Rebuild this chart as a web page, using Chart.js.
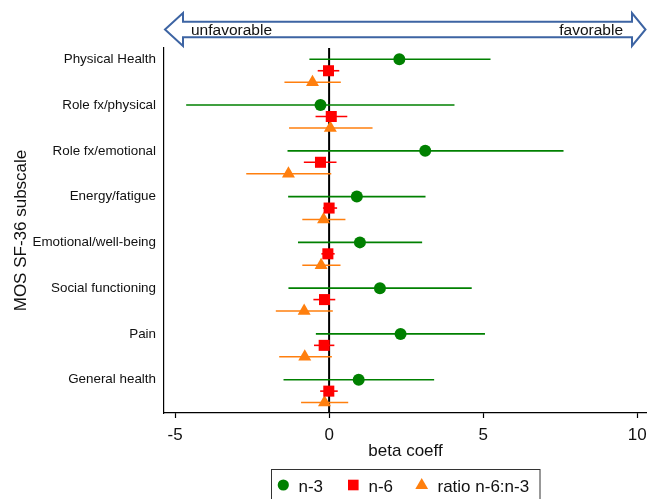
<!DOCTYPE html>
<html><head><meta charset="utf-8">
<script src="https://cdn.jsdelivr.net/npm/chart.js@4/dist/chart.umd.min.js"></script>
<style>html,body{margin:0;padding:0;background:#fff}#wrap{width:647px;height:499px;position:relative}</style>
</head><body><div id="wrap"><canvas id="c"></canvas></div>
<script>
const categories = ['Physical Health','Role fx/physical','Role fx/emotional','Energy/fatigue','Emotional/well-being','Social functioning','Pain','General health'];
const n3Beta  = [2.28, -0.28, 3.12, 0.90, 1.00, 1.65, 2.32, 0.96];
const n3Lo    = [-0.64, -4.64, -1.35, -1.33, -1.01, -1.32, -0.43, -1.48];
const n3Hi    = [5.24, 4.07, 7.61, 3.13, 3.02, 4.63, 5.06, 3.41];
const n6Beta  = [-0.02, 0.07, -0.28, 0.00, -0.04, -0.15, -0.16, -0.01];
const n6Lo    = [-0.37, -0.44, -0.82, -0.20, -0.25, -0.51, -0.49, -0.29];
const n6Hi    = [0.33, 0.59, 0.24, 0.26, 0.18, 0.20, 0.17, 0.28];
const ratioBeta = [-0.54, 0.04, -1.32, -0.18, -0.26, -0.81, -0.79, -0.15];
const ratioLo   = [-1.45, -1.30, -2.69, -0.87, -0.87, -1.73, -1.62, -0.91];
const ratioHi   = [0.38, 1.41, 0.07, 0.53, 0.37, 0.12, 0.09, 0.62];
const xTicks = [-5, 0, 5, 10];
const seriesNames = ['n-3', 'n-6', 'ratio n-6:n-3'];
const arrowLabels = ['unfavorable', 'favorable'];
const xTitle = 'beta coeff';
const yTitle = 'MOS SF-36 subscale';

const FONT = "'Liberation Sans', Arial, sans-serif";
const GREEN = '#008000', RED = '#ff0000', ORANGE = '#ff7f0e';

function mk(beta, lo, hi, off) {
  return categories.map((c, i) => ({x: beta[i], y: i + off, lo: lo[i], hi: hi[i]}));
}

const errorBars = {
  id: 'errorBars',
  beforeDatasetsDraw(chart) {
    const {ctx, scales: {x, y}, chartArea} = chart;
    ctx.save();
    ctx.strokeStyle = '#000'; ctx.lineWidth = 2;
    ctx.beginPath();
    const x0 = x.getPixelForValue(0);
    ctx.moveTo(x0, chartArea.top); ctx.lineTo(x0, chartArea.bottom); ctx.stroke();
    chart.data.datasets.forEach(ds => {
      ctx.strokeStyle = ds.borderColor; ctx.lineWidth = 1.6;
      ds.data.forEach(p => {
        const py = y.getPixelForValue(p.y);
        ctx.beginPath();
        ctx.moveTo(x.getPixelForValue(p.lo), py);
        ctx.lineTo(x.getPixelForValue(p.hi), py);
        ctx.stroke();
      });
    });
    ctx.restore();
  }
};

const decor = {
  id: 'decor',
  afterDraw(chart) {
    const ctx = chart.ctx;
    ctx.save();
    const cy = 29.5, hh = 16.5, sh = 7.8, lt = 165, rt = 645.5, lh = 183, rh = 632;
    ctx.beginPath();
    ctx.moveTo(lt, cy); ctx.lineTo(lh, cy - hh); ctx.lineTo(lh, cy - sh);
    ctx.lineTo(rh, cy - sh); ctx.lineTo(rh, cy - hh); ctx.lineTo(rt, cy);
    ctx.lineTo(rh, cy + hh); ctx.lineTo(rh, cy + sh); ctx.lineTo(lh, cy + sh);
    ctx.lineTo(lh, cy + hh); ctx.closePath();
    ctx.fillStyle = '#fff'; ctx.fill();
    ctx.strokeStyle = '#3d64a3'; ctx.lineWidth = 2; ctx.stroke();
    ctx.fillStyle = '#111'; ctx.font = '15.5px ' + FONT; ctx.textBaseline = 'alphabetic';
    ctx.textAlign = 'left'; ctx.fillText(arrowLabels[0], 191, 34.5);
    ctx.textAlign = 'right'; ctx.fillText(arrowLabels[1], 623, 34.5);
    ctx.strokeStyle = '#333'; ctx.lineWidth = 1;
    ctx.strokeRect(271.5, 469.5, 268.5, 40);
    const items = [[283.3, 298.5], [353.3, 368.5], [421.7, 437.5]];
    const ly = 486;
    chart.data.datasets.forEach((ds, i) => {
      ctx.fillStyle = ds.backgroundColor;
      const [mx, tx] = items[i];
      ctx.beginPath();
      if (ds.pointStyle === 'circle') { ctx.arc(mx, ly - 1, 5.6, 0, Math.PI * 2); }
      else if (ds.pointStyle === 'rect') { ctx.rect(mx - 5.3, ly - 6.3, 10.6, 10.6); }
      else { ctx.moveTo(mx, ly - 8); ctx.lineTo(mx + 6.4, ly + 3); ctx.lineTo(mx - 6.4, ly + 3); ctx.closePath(); }
      ctx.fill();
      ctx.fillStyle = '#111'; ctx.font = '17px ' + FONT; ctx.textAlign = 'left'; ctx.textBaseline = 'middle';
      ctx.fillText(seriesNames[i], tx, ly + 1);
    });
    ctx.restore();
  }
};

new Chart(document.getElementById('c'), {
  type: 'scatter',
  data: {
    datasets: [
      {label: seriesNames[0], data: mk(n3Beta, n3Lo, n3Hi, 0), pointStyle: 'circle', pointRadius: 6, backgroundColor: GREEN, borderColor: GREEN, borderWidth: 0},
      {label: seriesNames[1], data: mk(n6Beta, n6Lo, n6Hi, 0.25), pointStyle: 'rect', pointRadius: 7.8, backgroundColor: RED, borderColor: RED, borderWidth: 0},
      {label: seriesNames[2], data: mk(ratioBeta, ratioLo, ratioHi, 0.5), pointStyle: 'triangle', pointRadius: 7.5, backgroundColor: ORANGE, borderColor: ORANGE, borderWidth: 0}
    ]
  },
  options: {
    responsive: true, maintainAspectRatio: false, animation: false,
    layout: {autoPadding: false, padding: {top: 48, left: 0, right: 0, bottom: 0}},
    plugins: {legend: {display: false}, tooltip: {enabled: false}},
    scales: {
      x: {
        type: 'linear', min: -5.36, max: 10.32,
        afterBuildTicks: s => { s.ticks = xTicks.map(v => ({value: v})); },
        afterFit: s => { s.height = 86; s.paddingLeft = 0; s.paddingRight = 0; },
        ticks: {font: {size: 17, family: FONT}, color: '#111', padding: 7},
        grid: {drawOnChartArea: false, drawTicks: true, tickLength: 5, color: '#000', tickWidth: 1.2},
        border: {color: '#000', width: 1.2},
        title: {display: true, text: xTitle, font: {size: 17, family: FONT}, color: '#111', padding: {top: 0, bottom: 37}}
      },
      y: {
        type: 'linear', reverse: true, min: -0.247, max: 7.728,
        afterBuildTicks: s => { s.ticks = categories.map((c, i) => ({value: i})); },
        afterFit: s => { s.width = 164; s.paddingTop = 0; s.paddingBottom = 0; },
        ticks: {autoSkip: false, font: {size: 13.4, family: FONT}, color: '#111', padding: 8, callback: (v) => categories[v]},
        grid: {display: false, drawTicks: false},
        border: {display: true, color: '#000', width: 1.2},
        title: {display: true, text: yTitle, font: {size: 17, family: FONT}, color: '#111', padding: {top: 11, bottom: 0}}
      }
    }
  },
  plugins: [errorBars, decor]
});
</script></body></html>
